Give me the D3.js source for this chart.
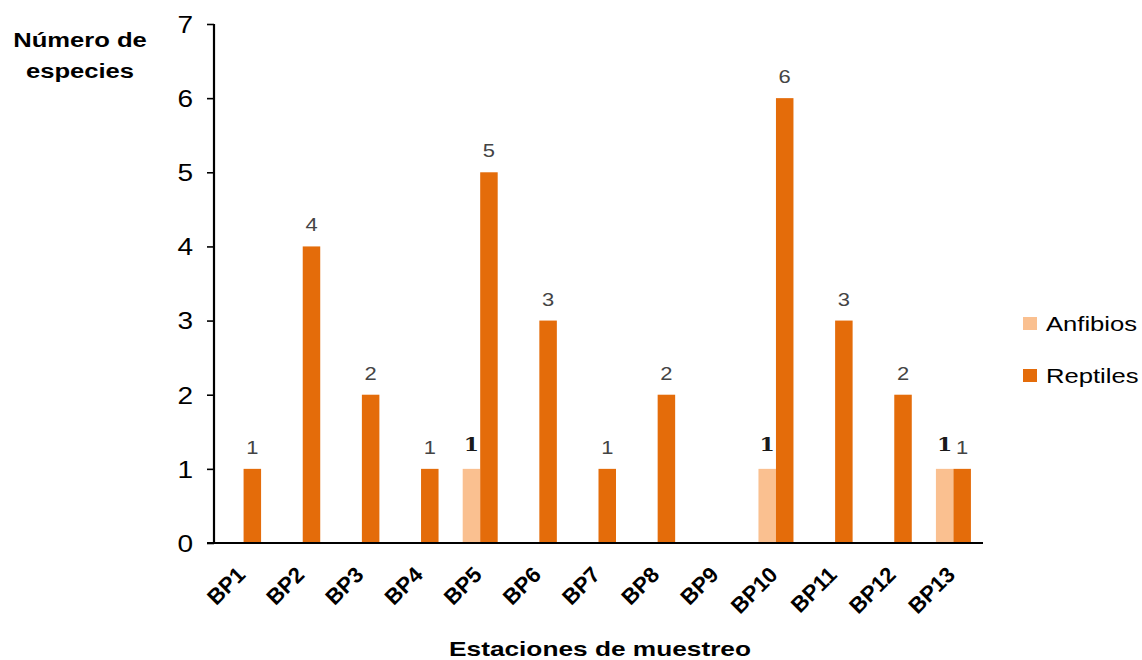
<!DOCTYPE html>
<html>
<head>
<meta charset="utf-8">
<script src="https://cdn.jsdelivr.net/npm/d3@7"></script>
<style>
  body { margin: 0; background: #fff; }
  svg { display: block; }
  text { font-family: "Liberation Sans", Arial, sans-serif; }
</style>
</head>
<body>
<svg id="chart" width="1142" height="660"></svg>
<script>
// Sampling stations and species counts
const stations = ["BP1","BP2","BP3","BP4","BP5","BP6","BP7","BP8","BP9","BP10","BP11","BP12","BP13"];
const anfibios = [0,0,0,0,1,0,0,0,0,1,0,0,1];
const reptiles = [1,4,2,1,5,3,1,2,0,6,3,2,1];
const seriesNames = ["Anfibios","Reptiles"];
const seriesColors = ["#FAC090","#E46C0A"];
const yTicks = [0,1,2,3,4,5,6,7];

// Text is drawn slightly widened horizontally
const SX = 1.22;

const svg = d3.select("#chart");
const margin = { left: 214, right: 159, top: 24, bottom: 117 };
const W = 1142, H = 660;

const x = d3.scaleBand().domain(stations).range([margin.left, W - margin.right]).padding(0);
const y = d3.scaleLinear().domain([0, 7]).range([H - margin.bottom, margin.top]);
const sub = d3.scaleBand().domain(seriesNames).range([-17.5, 17.5]).padding(0);

const rows = stations.map((s, i) => ({ station: s, values: [anfibios[i], reptiles[i]] }));

// Bars
const groups = svg.append("g").selectAll("g").data(rows).join("g")
  .attr("transform", d => `translate(${x(d.station) + x.bandwidth() / 2},0)`);

const entries = d => d.values.map((v, k) => ({ key: seriesNames[k], v, k })).filter(e => e.v > 0);

groups.selectAll("rect")
  .data(entries)
  .join("rect")
  .attr("x", e => sub(e.key))
  .attr("width", sub.bandwidth())
  .attr("y", e => y(e.v))
  .attr("height", e => y(0) - y(e.v))
  .attr("fill", e => seriesColors[e.k]);

// Value labels above the bars
groups.selectAll("text.val")
  .data(entries)
  .join("text")
  .attr("class", "val")
  .attr("transform", e => `translate(${sub(e.key) + sub.bandwidth() / 2},${y(e.v) - (e.k === 0 ? 18 : 15)}) scale(${SX},1)`)
  .attr("text-anchor", "middle")
  .style("font-family", e => e.k === 0 ? "'DejaVu Serif', 'Liberation Serif', serif" : "'Liberation Sans', Arial, sans-serif")
  .style("font-weight", e => e.k === 0 ? "bold" : "normal")
  .style("font-size", "18px")
  .attr("fill", e => e.k === 0 ? "#1a1a1a" : "#444")
  .text(e => e.v);

// Y axis
const yAxis = svg.append("g")
  .attr("transform", `translate(${margin.left},0)`)
  .call(d3.axisLeft(y).tickValues(yTicks).tickFormat(d3.format("d")).tickSize(7));
yAxis.select(".domain").attr("stroke", "#000").attr("stroke-width", 2.2)
  .attr("d", `M0,${y(7)}V${y(0)}`);
yAxis.selectAll(".tick line").attr("stroke", "#000").attr("stroke-width", 1.6);
yAxis.selectAll(".tick text")
  .attr("x", null).attr("dy", "0.36em")
  .attr("transform", `translate(-21,0) scale(${SX},1)`)
  .style("font-size", "23px").attr("fill", "#000")
  .style("font-family", "'Liberation Sans', Arial, sans-serif");

// X axis baseline
svg.append("line")
  .attr("x1", margin.left - 7).attr("x2", W - margin.right)
  .attr("y1", y(0)).attr("y2", y(0))
  .attr("stroke", "#000").attr("stroke-width", 2.2);

// X tick labels, rotated
svg.append("g").selectAll("text").data(stations).join("text")
  .attr("transform", d => `translate(${x(d) + x.bandwidth() / 2 + 3},${y(0) + 33}) rotate(-45)`)
  .attr("text-anchor", "end")
  .style("font-size", "22px")
  .style("font-weight", "bold")
  .attr("fill", "#000")
  .text(d => d);

// Axis titles
const yTitle = svg.append("g").attr("transform", `translate(80,0) scale(${SX},1)`)
  .append("text")
  .attr("text-anchor", "middle")
  .style("font-size", "21px").style("font-weight", "bold").attr("fill", "#000");
yTitle.append("tspan").attr("x", 0).attr("y", 47).text("Número de");
yTitle.append("tspan").attr("x", 0).attr("y", 78).text("especies");

svg.append("text")
  .attr("transform", `translate(600,656) scale(1.25,1)`)
  .attr("text-anchor", "middle")
  .style("font-size", "21px").style("font-weight", "bold").attr("fill", "#000")
  .text("Estaciones de muestreo");

// Legend
const legend = svg.append("g").selectAll("g").data(seriesNames).join("g")
  .attr("transform", (d, i) => `translate(1023,${317 + i * 52})`);
legend.append("rect").attr("width", 14).attr("height", 13)
  .attr("fill", (d, i) => seriesColors[i]);
legend.append("text")
  .attr("transform", `translate(23,14) scale(${SX},1)`)
  .style("font-size", "21px").attr("fill", "#000")
  .text(d => d);
</script>
</body>
</html>
